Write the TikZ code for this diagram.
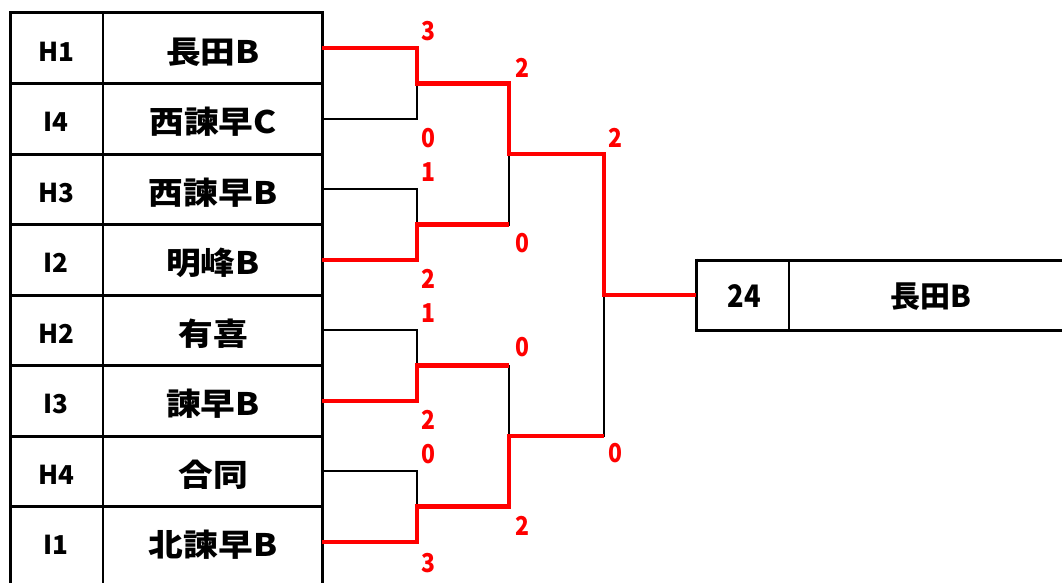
\documentclass[tikz,border=0pt]{standalone}
\usepackage{fontspec}
\newfontfamily\jp{Noto Sans CJK JP}
\newfontfamily\jpwide{Noto Sans CJK JP}[FakeStretch=1.12]
\newfontfamily\jpnarrow{Noto Sans CJK JP}[FakeStretch=0.88]
\usetikzlibrary{positioning}
\usetikzlibrary{calc}

\tikzset{
  seed/.style={font=\jp\bfseries\fontsize{26}{26}\selectfont},
  team/.style={font=\jpwide\bfseries\fontsize{31}{31}\selectfont},
  champ/.style={font=\jp\bfseries\fontsize{30}{30}\selectfont},
  champnum/.style={font=\jpnarrow\bfseries\fontsize{31}{31}\selectfont},
  score/.style={font=\jpnarrow\bfseries\fontsize{26}{26}\selectfont, text=red},
  win/.style={red, line width=4.5pt},
  lose/.style={black, line width=2pt},
  frame/.style={line width=3pt},
  thinline/.style={line width=1.5pt},
}

\begin{document}
\begin{tikzpicture}[x=1pt, y=-1pt]
\useasboundingbox (0,0) rectangle (1062,583);

\foreach \y in {13,83.5,154,224.5,295,365.5,436,506.5}
  \draw[frame] (10,\y) -- (322,\y);
\draw[frame] (10,11.5) -- (10,583);
\draw[frame] (322,11.5) -- (322,583);
\draw[thinline] (103,13) -- (103,583);

\node[seed] (s1) at (56,52) {H1};
\node[seed] (s2) at (56,122) {I4};
\node[seed] (s3) at (56,193) {H3};
\node[seed] (s4) at (56,263) {I2};
\node[seed] (s5) at (56,334) {H2};
\node[seed] (s6) at (56,404) {I3};
\node[seed] (s7) at (56,475) {H4};
\node[seed] (s8) at (56,545) {I1};

\node[team] (t1) at (213,52) {長田B};
\node[team] (t2) at (213,122) {西諫早C};
\node[team] (t3) at (213,193) {西諫早B};
\node[team] (t4) at (213,263) {明峰B};
\node[team] (t5) at (213,334) {有喜};
\node[team] (t6) at (213,404) {諫早B};
\node[team] (t7) at (213,475) {合同};
\node[team] (t8) at (213,545) {北諫早B};

\coordinate (e1) at (322,48.25);
\coordinate (e2) at (322,118.75);
\coordinate (e3) at (322,189.25);
\coordinate (e4) at (322,259.75);
\coordinate (e5) at (322,330.25);
\coordinate (e6) at (322,400.75);
\coordinate (e7) at (322,471.25);
\coordinate (e8) at (322,541.75);

\coordinate (r1a) at (417,83.5);
\coordinate (r1b) at (417,224.5);
\coordinate (r1c) at (417,365.5);
\coordinate (r1d) at (417,506.5);
\coordinate (r2a) at (509,154);
\coordinate (r2b) at (509,436);
\coordinate (fn) at (604,295);

\draw[frame] (696,258.5) -- (696,331.5);
\draw[frame] (696,260) -- (1062,260);
\draw[frame] (696,330) -- (1062,330);
\draw[thinline] (789,260) -- (789,330);
\coordinate (fin) at (696,295);
\node[champnum, yshift=-1pt] (num) at (744,295) {24};
\node[champ, yshift=-2pt] (wnr) at (931,295) {長田B};

\draw[lose] (e2) -| (r1a);
\draw[lose] (e3) -| (r1b);
\draw[lose] (e5) -| (r1c);
\draw[lose] (e7) -| (r1d);
\draw[lose] (r1b) -| (r2a);
\draw[lose] (r1c) -| (r2b);
\draw[lose] (r2b) -| (fn);

\draw[win] (e1) -| (r1a) -| (r2a) -| (fn) -- (fin);
\draw[win] (e4) -| (r1b) -- (r1b -| r2a);
\draw[win] (e6) -| (r1c) -- (r1c -| r2b);
\draw[win] (e8) -| (r1d) -| (r2b) -- (r2b -| fn);

\node[score, xshift=11pt, yshift=17pt] (p1) at (r1a |- e1) {3};
\node[score, xshift=11pt, yshift=-19pt] (p2) at (r1a |- e2) {0};
\node[score, xshift=11pt, yshift=17pt] (p3) at (r1b |- e3) {1};
\node[score, xshift=11pt, yshift=-19pt] (p4) at (r1b |- e4) {2};
\node[score, xshift=11pt, yshift=17pt] (p5) at (r1c |- e5) {1};
\node[score, xshift=11pt, yshift=-19pt] (p6) at (r1c |- e6) {2};
\node[score, xshift=11pt, yshift=17pt] (p7) at (r1d |- e7) {0};
\node[score, xshift=11pt, yshift=-21pt] (p8) at (r1d |- e8) {3};

\node[score, xshift=13pt, yshift=16pt] (q1) at (r2a |- r1a) {2};
\node[score, xshift=13pt, yshift=-19pt] (q2) at (r2a |- r1b) {0};
\node[score, xshift=13pt, yshift=18pt] (q3) at (r2b |- r1c) {0};
\node[score, xshift=13pt, yshift=-19pt] (q4) at (r2b |- r1d) {2};

\node[score, xshift=11pt, yshift=16pt] (f1) at (fn |- r2a) {2};
\node[score, xshift=11pt, yshift=-17pt] (f2) at (fn |- r2b) {0};

\end{tikzpicture}
\end{document}
